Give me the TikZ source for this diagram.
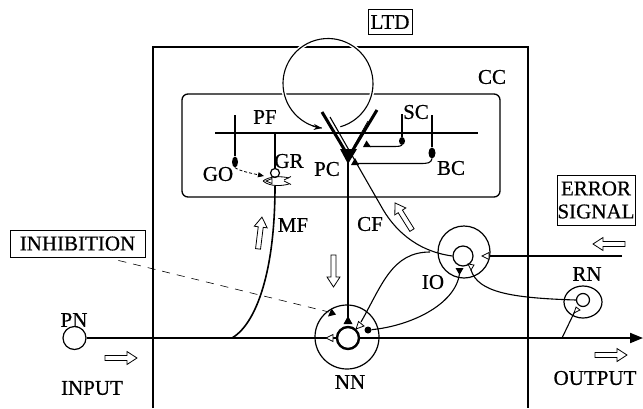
\documentclass[tikz,border=0pt]{standalone}
\usepackage{fontspec}
\setmainfont{Liberation Serif}[FakeBold=0.6]
\usetikzlibrary{arrows.meta,shapes.geometric}
\begin{document}
\begin{tikzpicture}[x=1pt,y=-1pt,
  lbl/.style={font=\fontsize{21}{23}\selectfont, inner sep=0pt},
  boxlbl/.style={lbl, draw, line width=0.9pt},
  frame/.style={line width=1.3pt},
  fiber/.style={line width=1.1pt},
  mossy/.style={line width=1.6pt},
  axon/.style={line width=2pt},
  dend/.style={line width=3pt},
  cell/.style={draw, circle, line width=1.2pt, inner sep=0pt},
  knob/.style={ellipse, fill=black, inner sep=0pt},
  syn/.style={line width=0.8pt},
  hollow/.pic={\draw[line width=0.8pt, fill=white] (-16,-2.5) -- (6,-2.5) -- (6,-6.5) -- (16,0) -- (6,6.5) -- (6,2.5) -- (-16,2.5) -- cycle;},
]
\useasboundingbox (0,0) rectangle (643,408);
\fill[white] (0,0) rectangle (643,408);

% cerebellar cortex frame and inner box
\draw[frame] (153,408) -- (153,47) -- (528,47) -- (528,408);
\draw[frame, rounded corners=6pt] (182,94) rectangle (500,197);

% LTD loop
\coordinate (ltdc) at (328,83.5);
\draw[fiber, preaction={draw=white, line width=4pt}] ([shift={(74:45)}]ltdc) arc[start angle=74, end angle=-262, radius=45];
\draw[fiber, -{Stealth[length=8pt,width=6pt]}] ([shift={(-250:45)}]ltdc) arc[start angle=-250, end angle=-262, radius=45];

% labels
\node[boxlbl, inner xsep=2.5pt, inner ysep=6pt] (ltd) at (390,22) {LTD};
\node[lbl] (cc) at (492,77) {CC};
\node[lbl] (pf) at (265,117) {PF};
\node[lbl] (sclbl) at (416,112) {SC};
\node[lbl] (grlbl) at (289,161) {GR};
\node[lbl] (golbl) at (218,174) {GO};
\node[lbl] (pclbl) at (327,169) {PC};
\node[lbl] (bclbl) at (451,168) {BC};
\node[lbl] (mf) at (293,225) {MF};
\node[lbl] (cf) at (370,224) {CF};
\node[lbl] (iolbl) at (433,282) {IO};
\node[lbl] (rnlbl) at (587,274) {RN};
\node[lbl] (nnlbl) at (350,382) {NN};
\node[lbl] (pnlbl) at (74,320) {PN};
\node[lbl] (input) at (92,388) {INPUT};
\node[lbl] (output) at (595,378) {OUTPUT};
\node[boxlbl, minimum width=135pt, minimum height=27pt, inner sep=0pt] (inh) at (77.5,243.5) {INHIBITION};
\node[boxlbl, align=center, minimum width=78pt, minimum height=50pt, inner sep=0pt] (err) at (596,200) {ERROR\\SIGNAL};

% parallel fibre
\coordinate (pfl) at (215,133);
\coordinate (pfr) at (478,133);
\draw[fiber] (pfl) -- (pfr);

% Golgi cell
\node[knob, minimum width=6pt, minimum height=11pt] (go) at (235,162) {};
\coordinate (gotop) at (235,115);
\draw[fiber] (gotop) -- (go.north);

% granule cell
\node[cell, minimum size=9pt, fill=white] (gr) at (275,173) {};
\coordinate (grtop) at (275,133);
\draw[fiber] (grtop) -- (gr.north);
\draw[syn] (263,181) .. controls (269,176) and (282,176) .. (289,178);
\draw[syn] (263,181) .. controls (270,187) and (282,186) .. (289,184);
\draw[syn] (284,180) -- (291,176.5);
\draw[syn] (284,181) -- (291,184.5);
\draw[syn, fill=white] (266,181) -- (272,178.5) -- (272,183.5) -- cycle;
\draw[syn, dash pattern=on 3pt off 2pt, -{Triangle[length=6pt,width=5pt]}] (go.south) .. controls (240,171) and (250,173) .. (264,176);

% mossy fibre
\coordinate (grfoot) at (275,186);
\coordinate (mfjoin) at (232,338);
\draw[mossy] (grfoot) .. controls (275,280) and (253,326) .. (mfjoin);

% Purkinje cell
\draw[dend] (322,112) -- (347,154);
\draw[dend] (377,110) -- (351,153);
\fill (340,149) -- (357,149) -- (348,164) -- cycle;
\coordinate (pcsoma) at (348,160);
\draw[syn] (368,121) -- (354,146);

% stellate cell
\node[knob, minimum width=6pt, minimum height=8pt] (sc) at (402,141) {};
\coordinate (sctop) at (402,114);
\draw[fiber] (sctop) -- (sc.north);
\draw[fiber] (sc.south) .. controls (401,146) and (399,146.5) .. (394,146.5) -- (370,146.5);
\fill (363,147) -- (371,147) -- (366.5,140.5) -- cycle;

% basket cell
\node[knob, minimum width=7pt, minimum height=11pt] (bc) at (432,153) {};
\coordinate (bctop) at (432,115);
\draw[fiber] (bctop) -- (bc.north);
\draw[fiber] (bc.south) .. controls (431,163) and (428,163.5) .. (420,163.5) -- (358,163.5);
\fill (351,165) -- (359,165) -- (355,158) -- cycle;

% main line
\node[cell, minimum size=23pt] (pn) at (74.5,338) {};
\coordinate (mainend) at (643,338);
\draw[axon, -{Triangle[length=13pt,width=10pt]}] (pn.east) -- (mainend);

% nuclear neuron
\node[cell, minimum size=64pt] (nn) at (347,337) {};
\node[cell, minimum size=22pt, line width=2.4pt, fill=white] (nnin) at (348,338) {};
\draw[syn, fill=white] (326,338) -- (333,334.5) -- (333,341.5) -- cycle;
\coordinate (nnpc) at (348,318);
\draw[axon] (pcsoma) -- (nnpc);
\fill (348,316) -- (352.5,324) -- (343.5,324) -- cycle;
\draw[syn, fill=white] (356,329) -- (358.5,321.5) -- (364,326) -- cycle;
\node[circle, fill=black, inner sep=0pt, minimum size=7pt] (nndot) at (368,330) {};

% inhibition
\coordinate (inhtip) at (329,312);
\draw[line width=0.6pt, dash pattern=on 8pt off 7pt] ([shift={(41,3)}]inh.south) -- (inhtip);
\fill (328,316.5) -- (336,314.5) -- (331.5,308.5) -- cycle;

% inferior olive
\node[cell, minimum size=52pt] (io) at (464,252) {};
\node[cell, minimum size=20pt, fill=white] (ioin) at (463,256) {};
\coordinate (errin) at (622,256);
\draw[fiber] (errin) -- (489,256);
\draw[syn, fill=white] (482,256) -- (489,252.5) -- (489,259.5) -- cycle;
\coordinate (iotri) at (459.5,274);
\draw[fiber] (nndot) .. controls (410,326) and (455,305) .. (iotri);
\fill (455.5,268) -- (463.5,268) -- (459.5,275) -- cycle;
\draw[syn, fill=white] (468,264) -- (474,265) -- (471,270) -- cycle;

% climbing fibre
\coordinate (cftop) at (330,117);
\coordinate (cfbend) at (381,206);
\draw[fiber] (cftop) -- (cfbend) .. controls (393,228) and (415,251) .. (ioin.west);
\coordinate (iojoin) at (430,252);
\coordinate (nnio) at (361,322);
\draw[fiber] (iojoin) .. controls (392,252) and (382,285) .. (nnio);

% red nucleus
\node[draw, ellipse, line width=1.2pt, minimum width=38pt, minimum height=32pt, inner sep=0pt] (rn) at (583,302) {};
\node[cell, minimum size=13pt, fill=white] (rnin) at (583,300) {};
\coordinate (iorn) at (471,270);
\draw[fiber] (iorn) .. controls (478,292) and (510,298) .. (rnin.west);
\coordinate (rnfoot) at (562,338);
\coordinate (rntip) at (575,311);
\draw[fiber] (rnfoot) -- (rntip);
\draw[syn, fill=white] (574,313) -- (576,307) -- (580,310) -- cycle;

% hollow arrows
\pic at (121,358) {hollow};
\pic at (611,355) {hollow};
\pic[rotate=180] at (609,244) {hollow};
\pic[rotate=83] at (260,233) {hollow};
\pic[rotate=270] at (333.5,271) {hollow};
\pic[rotate=122] at (403.5,216.5) {hollow};
\end{tikzpicture}
\end{document}
